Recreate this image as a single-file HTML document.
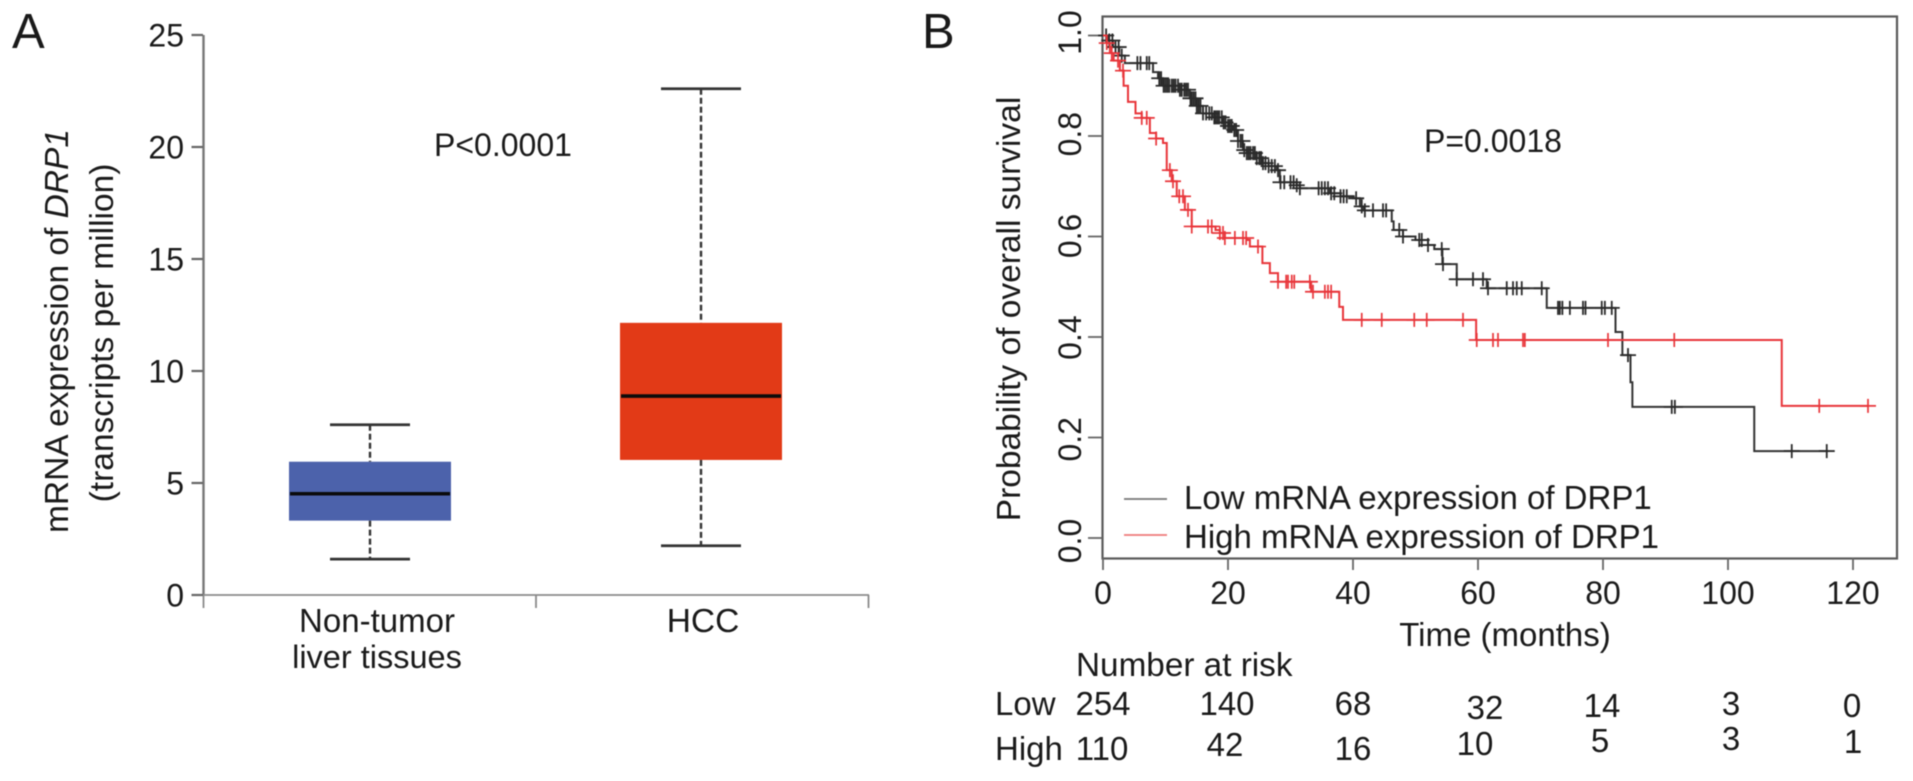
<!DOCTYPE html>
<html lang="en">
<head>
<meta charset="utf-8">
<title>DRP1 mRNA expression and overall survival</title>
<style>
html,body{margin:0;padding:0;background:#fff;width:1913px;height:781px;overflow:hidden}
svg{display:block;filter:blur(.55px)}
text{font-family:"Liberation Sans",Arial,sans-serif;fill:#1a1a1a}
</style>
</head>
<body>
<svg id="figure" xmlns="http://www.w3.org/2000/svg" width="1913" height="781" viewBox="0 0 1913 781">
  <g id="panelA">
    <text x="12" y="48" font-size="49">A</text>
    <text transform="translate(68 331) rotate(-90)" text-anchor="middle" font-size="33.5">mRNA expression of <tspan font-style="italic">DRP1</tspan></text>
    <text transform="translate(113 333) rotate(-90)" text-anchor="middle" font-size="33.5">(transcripts per million)</text>
    <text x="434" y="156" font-size="32">P&lt;0.0001</text>
    <text x="377" y="632" text-anchor="middle" font-size="33">Non-tumor</text>
    <text x="377" y="668" text-anchor="middle" font-size="32.5">liver tissues</text>
    <text x="703" y="632" text-anchor="middle" font-size="33.5">HCC</text>
  </g>
  <g id="panelB">
    <text x="922" y="48" font-size="49">B</text>
    <rect x="1102.5" y="16.5" width="794.5" height="542" fill="none" stroke="#5a5a5a" stroke-width="2.2"/>
    <text transform="translate(1020 309) rotate(-90)" text-anchor="middle" font-size="33.5">Probability of overall survival</text>
    <text x="1505" y="646" text-anchor="middle" font-size="33">Time (months)</text>
    <text x="1424" y="152" font-size="32">P=0.0018</text>
    <line x1="1124" x2="1167" y1="499" y2="499" stroke="#777" stroke-width="1.8"/>
    <text x="1184" y="509" font-size="33">Low mRNA expression of DRP1</text>
    <line x1="1124" x2="1167" y1="535" y2="535" stroke="#ee7a7a" stroke-width="1.8"/>
    <text x="1184" y="548" font-size="33">High mRNA expression of DRP1</text>
    <text x="1076" y="676" font-size="33.3">Number at risk</text>
    <text x="995" y="715" font-size="33">Low</text>
    <text x="995" y="760" font-size="33">High</text>
    <text x="1103" y="715" text-anchor="middle" font-size="33">254</text>
    <text x="1227" y="715" text-anchor="middle" font-size="33">140</text>
    <text x="1353" y="715" text-anchor="middle" font-size="33">68</text>
    <text x="1485" y="719" text-anchor="middle" font-size="33">32</text>
    <text x="1602" y="717" text-anchor="middle" font-size="33">14</text>
    <text x="1731" y="715" text-anchor="middle" font-size="33">3</text>
    <text x="1852" y="717" text-anchor="middle" font-size="33">0</text>
    <text x="1102" y="760" text-anchor="middle" font-size="33">110</text>
    <text x="1225" y="756" text-anchor="middle" font-size="33">42</text>
    <text x="1353" y="760" text-anchor="middle" font-size="33">16</text>
    <text x="1475" y="755" text-anchor="middle" font-size="33">10</text>
    <text x="1600" y="752" text-anchor="middle" font-size="33">5</text>
    <text x="1731" y="750" text-anchor="middle" font-size="33">3</text>
    <text x="1853" y="753" text-anchor="middle" font-size="33">1</text>
  </g>
</svg>
<script>
// ---- Panel A data ----
var boxCategories = ["non-tumor", "hcc"];
var boxColors = ["#4c62ab", "#e23a17"];
var boxWhiskerLow = [1.6, 2.2];
var boxQ1 = [3.32, 6.03];
var boxMedian = [4.52, 8.88];
var boxQ3 = [5.95, 12.15];
var boxWhiskerHigh = [7.6, 22.6];
var boxYTicks = [0, 5, 10, 15, 20, 25];

// ---- Panel B data ----
var lowTimes = [0,0.8,1.6,2.6,3.5,8,8.8,9.6,12.3,13.9,15,16,17.5,19.2,20,20.8,21.6,22.4,23,24.6,25.6,26.5,27.8,28.3,31,31.5,36.3,38,40,41.1,41.7,46.2,46.5,48,50,52,53,54.3,56.6,61.4,71,82,83.1,84.4,84.7,104.2];
var lowSurvival = [1,0.99,0.977,0.96,0.945,0.927,0.915,0.9,0.892,0.875,0.86,0.845,0.837,0.827,0.82,0.812,0.79,0.772,0.766,0.756,0.746,0.74,0.732,0.708,0.702,0.696,0.686,0.68,0.676,0.66,0.652,0.63,0.613,0.6,0.593,0.583,0.575,0.545,0.515,0.497,0.458,0.41,0.364,0.31,0.261,0.173];
var lowCensored = [0.5,1,1.5,2,2.5,3,5.5,6,7,7.4,9,9.3,9.7,10,10.3,10.6,11,11.3,11.6,12,12.3,12.6,13,13.3,13.6,14,14.2,14.5,14.8,15,15.3,15.6,16,16.5,17,17.4,17.8,18,18.3,18.6,19,19.3,19.6,20,20.3,20.6,21,21.3,21.6,22,22.3,22.6,23,23.3,23.6,24,24.3,24.6,25,25.3,25.6,26,26.5,27,27.5,28,28.4,29,30,30.5,31,31.5,34.5,35,35.5,36,36.5,37,38,38.5,39,40.5,41.4,41.9,43.2,44.8,45.3,47.4,48,50.6,51,52,54.2,54.4,56.6,59.2,60.8,61.6,64.6,65.6,66.2,67,70.2,72.8,73.1,73.5,74.7,76.8,77.2,79.8,80.3,81.4,84,91,91.5,110.2,115.8];
var highTimes = [0,0.6,1.1,1.7,2.7,3.3,4,5.2,6.2,7.5,8.5,9.6,10.2,11,11.8,13.1,14.2,18,18.7,19.5,23,23.5,25.5,26.7,28,33.3,37.8,38.4,59.7,108.6];
var highSurvival = [1,0.985,0.965,0.95,0.93,0.9,0.868,0.845,0.836,0.806,0.795,0.786,0.732,0.71,0.68,0.653,0.62,0.613,0.607,0.597,0.593,0.58,0.547,0.527,0.51,0.49,0.46,0.434,0.394,0.263];
var highCensored = [0.6,1.4,2.4,3.2,6.2,7,8.5,10.7,11.2,12.2,12.8,13.6,14.2,16.8,17.4,18.7,19.2,19.5,21.1,22.4,22.9,24.8,28,29.3,29.6,30.2,30.6,33.1,33.6,35.5,36,36.5,41.4,44.6,49.8,51.8,57.6,59.8,62.4,63.2,67.2,67.5,80.8,91.4,114.6,122.4];
var survivalXTicks = [0, 20, 40, 60, 80, 100, 120];
var survivalYTicks = ["0.0", "0.2", "0.4", "0.6", "0.8", "1.0"];
var lowEnd = 116;
var highEnd = 122.4;

var NS = "http://www.w3.org/2000/svg";
var panelA = document.getElementById("panelA");
var panelB = document.getElementById("panelB");

function yA(v) { return 595 - 22.4 * v; }
function xA(i) { return 370 + 331 * i; }
function xB(t) { return 1103 + 6.25 * t; }
function yB(s) { return 538 - 502.5 * s; }

function mk(tag, parent, attrs, txt) {
  var el = document.createElementNS(NS, tag);
  for (var k in attrs) el.setAttribute(k, attrs[k]);
  if (txt !== undefined) el.textContent = txt;
  parent.appendChild(el);
  return el;
}

function survivalAt(times, values, t) {
  var v = values[0];
  for (var i = 0; i < times.length; i++) { if (times[i] <= t) v = values[i]; }
  return v;
}

function stepPath(times, values, end) {
  var d = "M" + xB(times[0]) + " " + yB(values[0]);
  for (var i = 1; i < times.length; i++) {
    d += "H" + xB(times[i]) + "V" + yB(values[i]);
  }
  return d + "H" + xB(end);
}

// Panel A axes
var axisY = mk("path", panelA, {d: "M203.5 " + yA(boxYTicks[boxYTicks.length - 1]) + "V" + yA(0), fill: "none", stroke: "#777", "stroke-width": 2.4});


var axisX = mk("path", panelA, {d: "M203 " + yA(0) + "H869M203.5 " + yA(0) + "v13M536 " + yA(0) + "v13M868.5 " + yA(0) + "v13", fill: "none", stroke: "#8a8a8a", "stroke-width": 1.8});


boxYTicks.forEach(function (v) {
  var tick = mk("line", panelA, {x1: 191.5, x2: 203, y1: yA(v), y2: yA(v), stroke: "#666", "stroke-width": 2.2});
  
  
  var label = mk("text", panelA, {x: 184, y: yA(v) + 11.5, "text-anchor": "end", "font-size": 32}, String(v));
  
  
});

// Panel A boxes
boxCategories.forEach(function (name, i) {
  var cx = xA(i);
  var whisk = mk("path", panelA, {d: "M" + cx + " " + yA(boxWhiskerHigh[i]) + "V" + yA(boxQ3[i]) + "M" + cx + " " + yA(boxQ1[i]) + "V" + yA(boxWhiskerLow[i]), fill: "none", stroke: "#333", "stroke-width": 2.4, "stroke-dasharray": "6 3"});
  
  
  var caps = mk("path", panelA, {d: "M" + (cx - 40) + " " + yA(boxWhiskerHigh[i]) + "h80M" + (cx - 40) + " " + yA(boxWhiskerLow[i]) + "h80", fill: "none", stroke: "#333", "stroke-width": 2.8});
  
  
  var box = mk("rect", panelA, {x: cx - 81, y: yA(boxQ3[i]), width: 162, height: yA(boxQ1[i]) - yA(boxQ3[i]), fill: boxColors[i]});
  
  
  var med = mk("line", panelA, {x1: cx - 80, x2: cx + 80, y1: yA(boxMedian[i]), y2: yA(boxMedian[i]), stroke: "#0b0b0b", "stroke-width": 3.6});
  
  
});

// Panel B axes
survivalXTicks.forEach(function (t) {
  var tick = mk("line", panelB, {x1: xB(t), x2: xB(t), y1: 558, y2: 570, stroke: "#666", "stroke-width": 1.8});
  
  
  var label = mk("text", panelB, {x: xB(t), y: 604, "text-anchor": "middle", "font-size": 32}, String(t));
  
  
});
survivalYTicks.forEach(function (s) {
  var v = parseFloat(s);
  var tick = mk("line", panelB, {x1: 1088, x2: 1102, y1: yB(v), y2: yB(v), stroke: "#666", "stroke-width": 1.8});
  
  
  var labelY = yB(v) + 3 - 6 * v;
  var label = mk("text", panelB, {transform: "translate(1081 " + labelY + ") rotate(-90)", "text-anchor": "middle", "font-size": 32}, s);
  
  
});

// Panel B curves
function censorPath(times, values, censored) {
  return censored.map(function (t) {
    var x = xB(t), y = yB(survivalAt(times, values, t));
    return "M" + (x - 8) + " " + y + "h16M" + x + " " + (y - 7) + "v14";
  }).join("");
}

var lowLine = mk("path", panelB, {d: stepPath(lowTimes, lowSurvival, lowEnd), fill: "none", stroke: "#333", "stroke-width": 2});


var lowMarks = mk("path", panelB, {d: censorPath(lowTimes, lowSurvival, lowCensored), fill: "none", stroke: "#2a2a2a", "stroke-width": 1.8});


var highLine = mk("path", panelB, {d: stepPath(highTimes, highSurvival, highEnd), fill: "none", stroke: "#e8353a", "stroke-width": 2});


var highMarks = mk("path", panelB, {d: censorPath(highTimes, highSurvival, highCensored), fill: "none", stroke: "#e8353a", "stroke-width": 1.7});


</script>
</body>
</html>
